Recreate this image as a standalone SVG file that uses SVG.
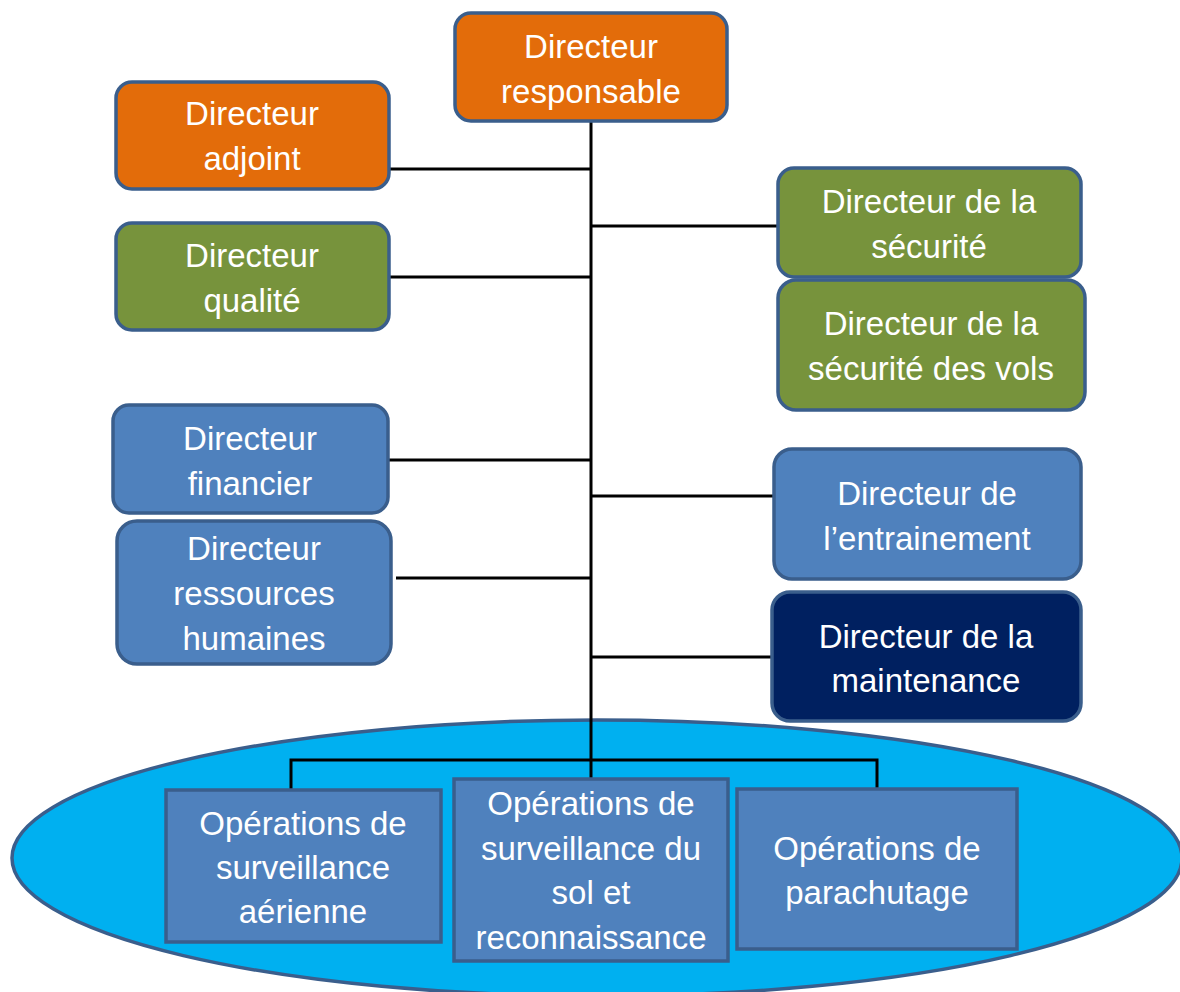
<svg xmlns="http://www.w3.org/2000/svg" width="1180" height="992" viewBox="0 0 1180 992">
  <style>
    .box { stroke: #3A5E8C; stroke-width: 3.5; }
    .orange { fill: #E36C0A; }
    .green { fill: #77933C; }
    .blue { fill: #4F81BD; }
    .navy { fill: #002060; }
    .lbl { font-family: "Liberation Sans", Arial, sans-serif; font-size: 33px; fill: #FFFFFF; text-anchor: middle; }
    .conn { stroke: #000000; stroke-width: 3; fill: none; }
  </style>
  <rect width="1180" height="992" fill="#FFFFFF"/>

  <!-- operations area -->
  <ellipse id="operations-area" cx="597" cy="858" rx="585" ry="138" fill="#00B0F0" stroke="#3A5E8C" stroke-width="3.5"/>

  <!-- connectors -->
  <g id="connectors" class="conn">
    <line x1="591" y1="121" x2="591" y2="779"/>
    <line x1="389" y1="169" x2="591" y2="169"/>
    <line x1="591" y1="226" x2="787" y2="226"/>
    <line x1="389" y1="277" x2="591" y2="277"/>
    <line x1="388" y1="460" x2="591" y2="460"/>
    <line x1="591" y1="496" x2="778" y2="496"/>
    <line x1="396" y1="578" x2="591" y2="578"/>
    <line x1="591" y1="657" x2="772" y2="657"/>
    <polyline points="291,795 291,760 877,760 877,795"/>
  </g>

  <g id="directeur-responsable">
    <rect class="box orange" x="455" y="13" width="272" height="108" rx="16"/>
    <text class="lbl" x="591" y="58">Directeur</text>
    <text class="lbl" x="591" y="103">responsable</text>
  </g>

  <g id="directeur-adjoint">
    <rect class="box orange" x="116" y="82" width="273" height="107" rx="16"/>
    <text class="lbl" x="252" y="125">Directeur</text>
    <text class="lbl" x="252" y="170">adjoint</text>
  </g>

  <g id="directeur-qualite">
    <rect class="box green" x="116" y="223" width="273" height="107" rx="16"/>
    <text class="lbl" x="252" y="267">Directeur</text>
    <text class="lbl" x="252" y="312">qualité</text>
  </g>

  <g id="directeur-financier">
    <rect class="box blue" x="113" y="405" width="275" height="108" rx="16"/>
    <text class="lbl" x="250" y="450">Directeur</text>
    <text class="lbl" x="250" y="495">financier</text>
  </g>

  <g id="directeur-rh">
    <rect class="box blue" x="117" y="521" width="274" height="143" rx="20"/>
    <text class="lbl" x="254" y="560">Directeur</text>
    <text class="lbl" x="254" y="605">ressources</text>
    <text class="lbl" x="254" y="650">humaines</text>
  </g>

  <g id="directeur-securite">
    <rect class="box green" x="778" y="168" width="303" height="109" rx="16"/>
    <text class="lbl" x="929" y="213">Directeur de la</text>
    <text class="lbl" x="929" y="258">sécurité</text>
  </g>

  <g id="directeur-securite-vols">
    <rect class="box green" x="778" y="280" width="307" height="130" rx="18"/>
    <text class="lbl" x="931" y="335">Directeur de la</text>
    <text class="lbl" x="931" y="380">sécurité des vols</text>
  </g>

  <g id="directeur-entrainement">
    <rect class="box blue" x="774" y="449" width="307" height="130" rx="18"/>
    <text class="lbl" x="927" y="505">Directeur de</text>
    <text class="lbl" x="927" y="550">l’entrainement</text>
  </g>

  <g id="directeur-maintenance">
    <rect class="box navy" x="772" y="592" width="309" height="129" rx="18"/>
    <text class="lbl" x="926" y="648">Directeur de la</text>
    <text class="lbl" x="926" y="692">maintenance</text>
  </g>

  <g id="ops-surveillance-aerienne">
    <rect class="box blue" x="166" y="790" width="275" height="152"/>
    <text class="lbl" x="303" y="835">Opérations de</text>
    <text class="lbl" x="303" y="879">surveillance</text>
    <text class="lbl" x="303" y="923">aérienne</text>
  </g>

  <g id="ops-surveillance-sol">
    <rect class="box blue" x="454" y="779" width="274" height="182"/>
    <text class="lbl" x="591" y="815">Opérations de</text>
    <text class="lbl" x="591" y="860">surveillance du</text>
    <text class="lbl" x="591" y="904">sol et</text>
    <text class="lbl" x="591" y="949">reconnaissance</text>
  </g>

  <g id="ops-parachutage">
    <rect class="box blue" x="737" y="789" width="280" height="160"/>
    <text class="lbl" x="877" y="860">Opérations de</text>
    <text class="lbl" x="877" y="904">parachutage</text>
  </g>
</svg>
